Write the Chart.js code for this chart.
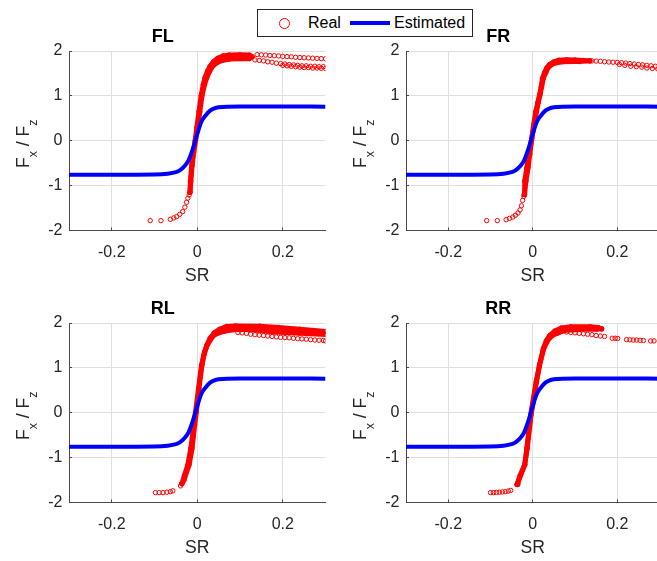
<!DOCTYPE html>
<html>
<head>
<meta charset="utf-8">
<title>Fx/Fz vs slip ratio</title>
<script src="https://cdn.jsdelivr.net/npm/chart.js@4.4.1/dist/chart.umd.min.js"></script>
<style>
  html, body { margin: 0; padding: 0; width: 657px; height: 561px; overflow: hidden; background: #fff; }
  canvas.panel { position: absolute; }
  #legend {
    position: absolute; left: 257px; top: 9px; width: 216px; height: 28px;
    box-sizing: border-box; border: 1px solid #262626; background: #fff; z-index: 5;
    font-family: "Liberation Sans", Arial, sans-serif; font-size: 16px; color: #000;
  }
  #legend .lbl { position: absolute; top: 0; line-height: 26px; white-space: nowrap; }
  #legend .mk-circle { position: absolute; left: 21px; top: 8px; width: 9px; height: 9px;
    border: 1px solid #ff0000; border-radius: 50%; }
  #legend .mk-line { position: absolute; left: 92px; top: 11px; width: 40px; height: 4px; }
</style>
</head>
<body>
<div id="legend"></div>
<canvas id="pFL" class="panel" width="330" height="290" style="left:0px;top:0px"></canvas>
<canvas id="pFR" class="panel" width="330" height="290" style="left:337px;top:0px"></canvas>
<canvas id="pRL" class="panel" width="330" height="290" style="left:0px;top:272px"></canvas>
<canvas id="pRR" class="panel" width="330" height="290" style="left:337px;top:272px"></canvas>
<script>
// ---- axes ----
const SR_TICKS = [-0.2, 0, 0.2];
const RATIO_TICKS = [-2, -1, 0, 1, 2];
const SR_RANGE = [-0.3, 0.3];
const RATIO_RANGE = [-2, 2];

// ---- estimated tyre curve (same model for every wheel) ----
const estSR    = [-0.30, -0.20, -0.10, -0.07, -0.05, -0.04, -0.03, -0.02, -0.01, 0.00, 0.01, 0.02, 0.03, 0.04, 0.05, 0.07, 0.10, 0.20, 0.30];
const estRatio = [-0.755, -0.755, -0.75, -0.735, -0.70, -0.655, -0.57, -0.43, -0.17, 0.15, 0.43, 0.57, 0.67, 0.72, 0.745, 0.76, 0.762, 0.762, 0.76];

// ---- measured samples ----
// The densely sampled region of each wheel is traced by the centres of its outermost samples:
// an upper and a lower envelope sharing their first and last point. "Dots" are isolated samples.

// FL
const flUpperSR    = [-0.017, -0.016, -0.013, -0.009, -0.005, -0.001, 0.004, 0.009, 0.014, 0.018, 0.024, 0.030, 0.038, 0.048, 0.060, 0.075, 0.100, 0.122, 0.128];
const flUpperRatio = [-1.15, -0.90, -0.55, -0.25, 0.00, 0.30, 0.65, 1.00, 1.25, 1.40, 1.55, 1.66, 1.76, 1.84, 1.89, 1.91, 1.915, 1.91, 1.87];
const flLowerSR    = [-0.017, -0.015, -0.012, -0.008, -0.004, 0.001, 0.006, 0.011, 0.017, 0.022, 0.029, 0.036, 0.046, 0.058, 0.075, 0.100, 0.122, 0.128];
const flLowerRatio = [-1.15, -0.90, -0.55, -0.25, 0.00, 0.30, 0.65, 1.00, 1.25, 1.40, 1.55, 1.66, 1.74, 1.79, 1.82, 1.83, 1.83, 1.87];
const flDotsSR     = [-0.110, -0.085, -0.063, -0.055, -0.048, -0.041, -0.034, -0.029, -0.025, -0.022, -0.019,
                      0.140, 0.150, 0.160, 0.170, 0.180, 0.190, 0.200, 0.210, 0.220, 0.230, 0.240, 0.250, 0.260, 0.270, 0.280, 0.290, 0.300,
                      0.135, 0.145, 0.155, 0.165, 0.175, 0.185, 0.195, 0.205, 0.215, 0.225, 0.235, 0.245, 0.255, 0.265, 0.275, 0.285, 0.295,
                      0.200, 0.210, 0.220, 0.230, 0.240, 0.250, 0.260, 0.270, 0.280, 0.290, 0.300];
const flDotsRatio  = [-1.78, -1.78, -1.75, -1.72, -1.69, -1.64, -1.58, -1.48, -1.37, -1.28, -1.21,
                      1.92, 1.915, 1.91, 1.90, 1.895, 1.89, 1.88, 1.875, 1.87, 1.86, 1.855, 1.85, 1.845, 1.84, 1.835, 1.83, 1.825,
                      1.80, 1.79, 1.78, 1.76, 1.75, 1.73, 1.72, 1.71, 1.70, 1.69, 1.68, 1.67, 1.67, 1.66, 1.66, 1.65, 1.65,
                      1.68, 1.67, 1.66, 1.65, 1.64, 1.63, 1.63, 1.62, 1.62, 1.615, 1.61];

// FR
const frUpperSR    = [-0.020, -0.016, -0.011, -0.007, -0.003, 0.002, 0.007, 0.012, 0.016, 0.020, 0.023, 0.028, 0.033, 0.040, 0.050, 0.062, 0.080, 0.100, 0.120, 0.135];
const frUpperRatio = [-1.20, -0.90, -0.60, -0.30, 0.00, 0.35, 0.65, 0.85, 1.02, 1.20, 1.39, 1.52, 1.62, 1.70, 1.76, 1.795, 1.805, 1.80, 1.79, 1.78];
const frLowerSR    = [-0.020, -0.019, -0.014, -0.009, -0.003, 0.003, 0.009, 0.013, 0.017, 0.021, 0.025, 0.031, 0.036, 0.045, 0.056, 0.070, 0.090, 0.110, 0.135];
const frLowerRatio = [-1.20, -0.90, -0.60, -0.30, 0.00, 0.35, 0.65, 0.85, 1.02, 1.20, 1.39, 1.52, 1.62, 1.70, 1.74, 1.76, 1.765, 1.765, 1.78];
const frDotsSR     = [-0.109, -0.084, -0.063, -0.055, -0.047, -0.041, -0.035, -0.030, -0.027, -0.024, -0.021,
                      0.140, 0.150, 0.160, 0.170, 0.180, 0.190, 0.200, 0.210, 0.220, 0.230, 0.240, 0.250, 0.260, 0.270, 0.280, 0.290, 0.300,
                      0.205, 0.218, 0.232, 0.245, 0.258, 0.270, 0.283, 0.296];
const frDotsRatio  = [-1.78, -1.78, -1.76, -1.73, -1.70, -1.66, -1.61, -1.54, -1.45, -1.33, -1.24,
                      1.78, 1.775, 1.77, 1.76, 1.755, 1.75, 1.745, 1.74, 1.73, 1.72, 1.71, 1.70, 1.69, 1.68, 1.67, 1.66, 1.65,
                      1.70, 1.68, 1.66, 1.65, 1.64, 1.62, 1.61, 1.60];

// RL
const rlUpperSR    = [-0.036, -0.030, -0.022, -0.015, -0.008, -0.004, 0.003, 0.010, 0.017, 0.022, 0.030, 0.040, 0.052, 0.068, 0.090, 0.146, 0.190, 0.240, 0.300, 0.310];
const rlUpperRatio = [-1.58, -1.40, -1.16, -0.79, -0.27, 0.02, 0.54, 1.06, 1.35, 1.50, 1.66, 1.78, 1.86, 1.92, 1.935, 1.93, 1.90, 1.86, 1.81, 1.80];
const rlLowerSR    = [-0.036, -0.031, -0.019, -0.012, -0.006, -0.002, 0.004, 0.011, 0.016, 0.021, 0.029, 0.038, 0.050, 0.065, 0.091, 0.122, 0.180, 0.240, 0.300, 0.310];
const rlLowerRatio = [-1.58, -1.50, -1.16, -0.79, -0.27, 0.02, 0.54, 1.06, 1.30, 1.45, 1.60, 1.72, 1.78, 1.82, 1.855, 1.855, 1.80, 1.77, 1.745, 1.80];
const rlDotsSR     = [-0.098, -0.089, -0.080, -0.071, -0.063, -0.057, -0.039,
                      0.095, 0.105, 0.115, 0.125, 0.135, 0.145, 0.155, 0.165, 0.175, 0.185, 0.195, 0.205, 0.215, 0.225, 0.235, 0.245, 0.255, 0.265, 0.275, 0.285, 0.295, 0.300];
const rlDotsRatio  = [-1.78, -1.78, -1.78, -1.77, -1.76, -1.74, -1.63,
                      1.79, 1.78, 1.77, 1.75, 1.74, 1.73, 1.72, 1.71, 1.70, 1.69, 1.68, 1.675, 1.67, 1.66, 1.65, 1.645, 1.64, 1.63, 1.62, 1.615, 1.61, 1.60];

// RR
const rrUpperSR    = [-0.037, -0.030, -0.019, -0.013, -0.004, 0.009, 0.016, 0.025, 0.032, 0.040, 0.052, 0.068, 0.090, 0.136, 0.155, 0.163];
const rrUpperRatio = [-1.60, -1.40, -1.16, -0.79, -0.05, 0.69, 1.06, 1.43, 1.60, 1.72, 1.82, 1.89, 1.915, 1.915, 1.90, 1.87];
const rrLowerSR    = [-0.037, -0.035, -0.019, -0.014, -0.005, 0.008, 0.016, 0.026, 0.036, 0.046, 0.060, 0.075, 0.112, 0.150, 0.163];
const rrLowerRatio = [-1.60, -1.55, -1.16, -0.79, -0.05, 0.69, 1.06, 1.43, 1.62, 1.72, 1.78, 1.83, 1.86, 1.86, 1.87];
const rrDotsSR     = [-0.100, -0.093, -0.086, -0.079, -0.072, -0.065, -0.058, -0.052,
                      0.080, 0.090, 0.100, 0.110, 0.120, 0.130, 0.140, 0.150, 0.160, 0.170,
                      0.188, 0.195, 0.201, 0.222, 0.230, 0.238, 0.246, 0.254, 0.262, 0.279, 0.287];
const rrDotsRatio  = [-1.78, -1.78, -1.775, -1.77, -1.765, -1.76, -1.745, -1.73,
                      1.80, 1.79, 1.78, 1.77, 1.76, 1.75, 1.74, 1.72, 1.71, 1.70,
                      1.66, 1.66, 1.655, 1.63, 1.625, 1.62, 1.62, 1.615, 1.61, 1.60, 1.60];

const SERIES_REAL = 'Real';
const SERIES_EST = 'Estimated';

// ---- styling ----
const FONT = '"Liberation Sans", Arial, Helvetica, sans-serif';
const RED = '#ff0000';
const BLUE = '#0000ff';
const AXIS_COLOR = '#4a4a4a';
const TEXT_COLOR = '#262626';
const GRID_COLOR = '#dfdfdf';

const pts = (xs, ys) => xs.map((x, i) => ({ x, y: ys[i] }));

// Legend built from the series names
(function buildLegend() {
  const lg = document.getElementById('legend');
  lg.innerHTML =
    '<span class="mk-circle"></span><span class="lbl" style="left:50px">' + SERIES_REAL + '</span>' +
    '<span class="mk-line" style="background:' + BLUE + '"></span><span class="lbl" style="left:136px">' + SERIES_EST + '</span>';
})();

// y-axis label "F_x / F_z" with subscripts
const ratioLabel = {
  id: 'ratioLabel',
  afterDraw(chart) {
    const ctx = chart.ctx;
    const area = chart.chartArea;
    const parts = [
      { t: 'F', size: 17.6, dy: 0 },
      { t: 'x', size: 12.5, dy: 7.5 },
      { t: ' / F', size: 17.6, dy: 0 },
      { t: 'z', size: 12.5, dy: 7.5 }
    ];
    ctx.save();
    let total = 0;
    parts.forEach(p => { ctx.font = p.size + 'px ' + FONT; p.w = ctx.measureText(p.t).width; total += p.w; });
    ctx.translate(29, (area.top + area.bottom) / 2 + 3);
    ctx.rotate(-Math.PI / 2);
    ctx.fillStyle = TEXT_COLOR;
    ctx.textBaseline = 'alphabetic';
    ctx.textAlign = 'left';
    let u = -total / 2;
    parts.forEach(p => {
      ctx.font = p.size + 'px ' + FONT;
      ctx.fillText(p.t, u, p.dy);
      u += p.w;
    });
    ctx.restore();
  }
};

function makePanel(id, title, upSR, upRatio, loSR, loRatio, dotsSR, dotsRatio, rightPad) {
  const marker = {
    pointStyle: 'circle', pointRadius: 2.2, pointBorderWidth: 1,
    pointBorderColor: RED, pointBackgroundColor: 'rgba(255,255,255,0)',
    pointHoverRadius: 2.2
  };
  // envelope strokes are as wide as one sample marker
  const envelope = {
    borderColor: RED, borderWidth: 5, backgroundColor: RED,
    borderCapStyle: 'round', borderJoinStyle: 'round', tension: 0
  };
  return new Chart(document.getElementById(id), {
    type: 'line',
    data: {
      datasets: [
        {
          label: SERIES_EST, data: pts(estSR, estRatio),
          borderColor: BLUE, borderWidth: 4, pointRadius: 0,
          cubicInterpolationMode: 'monotone', fill: false
        },
        Object.assign({
          label: SERIES_REAL, data: pts(dotsSR, dotsRatio),
          showLine: false, fill: false
        }, marker),
        // upper envelope, filled down to the lower envelope (next dataset)
        Object.assign({ label: SERIES_REAL, data: pts(upSR, upRatio), fill: '+1' }, envelope, marker),
        Object.assign({ label: SERIES_REAL, data: pts(loSR, loRatio), fill: false }, envelope, marker)
      ]
    },
    options: {
      responsive: false,
      animation: false,
      devicePixelRatio: 1,
      events: [],
      layout: { padding: { left: 0, right: rightPad, top: 0, bottom: 0 } },
      plugins: {
        legend: { display: false },
        tooltip: { enabled: false },
        filler: { propagate: false },
        title: {
          display: true, text: title, color: '#000',
          font: { family: FONT, size: 18, weight: 'bold', lineHeight: 1.2 },
          padding: { top: 26.2, bottom: 3.2 }
        }
      },
      scales: {
        x: {
          type: 'linear', min: SR_RANGE[0], max: SR_RANGE[1],
          afterBuildTicks: s => { s.ticks = SR_TICKS.map(v => ({ value: v })); },
          afterFit: s => { s.height = 59.5; },
          ticks: {
            autoSkip: false, maxRotation: 0, padding: 15, color: TEXT_COLOR,
            font: { family: FONT, size: 16 },
            callback: v => String(v)
          },
          grid: { color: GRID_COLOR, lineWidth: 1, drawTicks: true, tickLength: -3, tickColor: AXIS_COLOR, tickWidth: 1 },
          border: { display: true, color: AXIS_COLOR, width: 1 },
          title: {
            display: true, text: 'SR', color: TEXT_COLOR,
            font: { family: FONT, size: 17.6, lineHeight: 1.2 },
            padding: { top: 0, bottom: 3.4 }
          }
        },
        y: {
          type: 'linear', min: RATIO_RANGE[0], max: RATIO_RANGE[1],
          afterBuildTicks: s => { s.ticks = RATIO_TICKS.map(v => ({ value: v })); },
          afterFit: s => { s.width = 69; },
          ticks: {
            autoSkip: false, padding: 9.5, color: TEXT_COLOR,
            font: { family: FONT, size: 16 },
            callback: v => String(v)
          },
          grid: { color: GRID_COLOR, lineWidth: 1, drawTicks: true, tickLength: -3, tickColor: AXIS_COLOR, tickWidth: 1 },
          border: { display: true, color: AXIS_COLOR, width: 1 },
          title: { display: false }
        }
      }
    },
    plugins: [ratioLabel]
  });
}

makePanel('pFL', 'FL', flUpperSR, flUpperRatio, flLowerSR, flLowerRatio, flDotsSR, flDotsRatio, 4.5);
makePanel('pFR', 'FR', frUpperSR, frUpperRatio, frLowerSR, frLowerRatio, frDotsSR, frDotsRatio, 7.5);
makePanel('pRL', 'RL', rlUpperSR, rlUpperRatio, rlLowerSR, rlLowerRatio, rlDotsSR, rlDotsRatio, 4.5);
makePanel('pRR', 'RR', rrUpperSR, rrUpperRatio, rrLowerSR, rrLowerRatio, rrDotsSR, rrDotsRatio, 7.5);
</script>
</body>
</html>
